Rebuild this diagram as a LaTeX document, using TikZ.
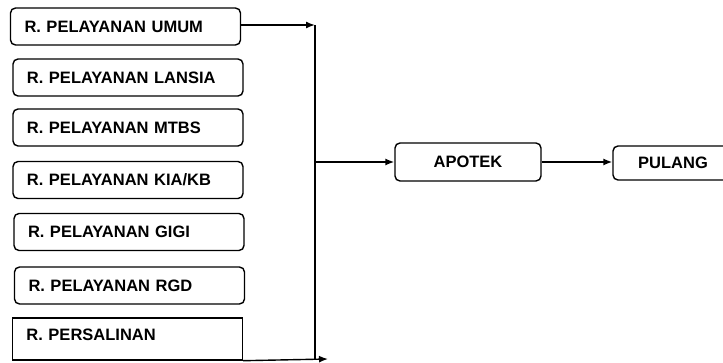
\documentclass[tikz,border=0pt]{standalone}
\usepackage{fontspec}
\setmainfont{Liberation Sans}
\usetikzlibrary{arrows.meta, positioning}
\tikzset{
  >={Latex[length=9pt,width=7pt]},
  x=1pt, y=-1pt,
  every path/.style={line width=1.4pt},
  every node/.style={font=\bfseries\fontsize{16.5}{19}\selectfont},
  ruang/.style={draw, rounded corners=5pt, minimum width=230pt, minimum height=37pt,
    inner xsep=14pt, text width=202pt, align=left},
  kotak/.style={draw, rounded corners=5pt, minimum height=37pt, align=center},
}

\begin{document}
\begin{tikzpicture}
      \useasboundingbox (0,0) rectangle (723,363);

      \node[ruang]  (umum)   at (125.5,26.5) {R. PELAYANAN UMUM};
      \node[ruang]  (lansia) at (128,77.5)   {R. PELAYANAN LANSIA};
      \node[ruang]  (mtbs)   at (128,127.5)  {R. PELAYANAN MTBS};
      \node[ruang]  (kia)    at (128,180)    {R. PELAYANAN KIA/KB};
      \node[ruang]  (gigi)   at (129,232)    {R. PELAYANAN GIGI};
      \node[ruang]  (rgd)    at (129.5,285.5) {R. PELAYANAN RGD};
      \node[ruang, sharp corners, minimum width=227pt, minimum height=42pt,
            text depth=9pt] (salin) at (127.5,339) {R. PERSALINAN};

      \node[kotak, minimum width=146pt, minimum height=38pt] (apotek) at (468,162) {APOTEK};
      \node[kotak, minimum width=120pt, minimum height=34pt] (pulang) at (673,163) {PULANG};

      \coordinate (jtop) at (315,25);
      \coordinate (jbot) at (315,359);
      \coordinate (jend) at (328,359);

      \draw[->] (umum.east |- jtop) -- (jtop);
      \draw (jtop) -- (jbot);
      \draw[->] (salin.south east) -- (jend);
      \draw[->] (apotek.west -| jtop) -- (apotek.west);
      \draw[->] (apotek.east) -- (apotek.east -| pulang.west);
    \end{tikzpicture}
\end{document}
